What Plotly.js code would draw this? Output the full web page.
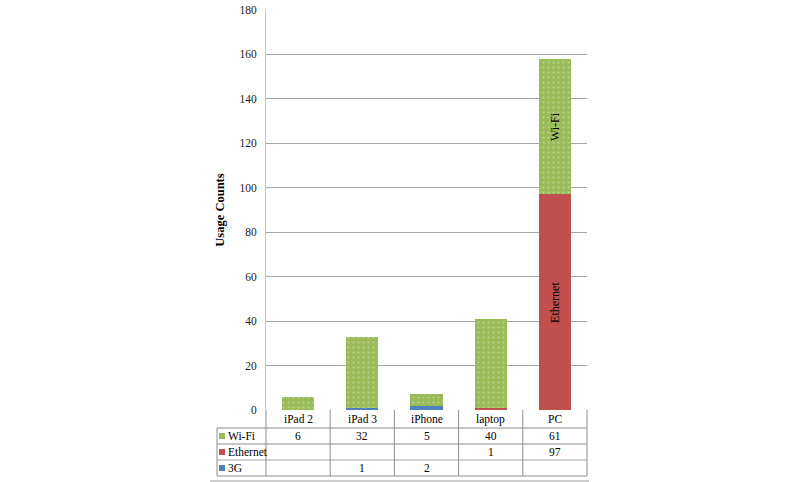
<!DOCTYPE html>
<html>
<head>
<meta charset="utf-8">
<script src="https://cdn.plot.ly/plotly-3.0.1.min.js"></script>
<style>
  html, body { margin: 0; padding: 0; background: #fff; }
  #chart { width: 800px; height: 482px; }
</style>
</head>
<body>
<div id="chart"></div>
<script>
const categories = ['iPad 2', 'iPad 3', 'iPhone', 'laptop', 'PC'];
const wifi = [6, 32, 5, 40, 61];
const ethernet = [null, null, null, 1, 97];
const g3 = [null, 1, 2, null, null];
const seriesNames = ['Wi-Fi', 'Ethernet', '3G'];
const seriesColors = ['#9BBB59', '#C0504D', '#4F81BD'];
const labelCategory = 'PC'; // only this bar carries series names inside

// plot box in pixels
const L = 266, R = 587, T = 10, B = 410;
const W = 800, H = 482;
const px = x => (x - L) / (R - L);
const py = y => (B - y) / (B - T);

const serif = 'Liberation Serif, Times New Roman, serif';
const barText = name => categories.map(c => c === labelCategory ? name : '');

function barTrace(name, values, color, extra) {
    return Object.assign({
        type: 'bar',
        name: name,
        x: categories,
        y: values,
        marker: { color: color, line: { width: 0 } },
        text: barText(name),
        textposition: 'inside',
        insidetextanchor: 'middle',
        textangle: -90,
        textfont: { family: serif, size: 12, color: '#000' },
        hoverinfo: 'x+y+name'
    }, extra || {});
}

const traces = [
    barTrace('3G', g3, seriesColors[2]),
    barTrace('Ethernet', ethernet, seriesColors[1]),
    barTrace('Wi-Fi', wifi, seriesColors[0], {
        marker: {
            color: seriesColors[0],
            line: { width: 0 },
            pattern: { shape: '.', bgcolor: seriesColors[0], fgcolor: '#bcd496', size: 5, solidity: 0.12 }
        }
    })
];

// data table under the axis
const rowTops = [410, 428, 444, 460, 476];
const tableRows = [wifi, ethernet, g3];
const shapes = [];
const annotations = [];
const lineCol = '#8e8e8e';

// horizontal rules
shapes.push({ type: 'line', xref: 'paper', yref: 'paper', x0: px(217), x1: 1, y0: py(rowTops[1]), y1: py(rowTops[1]), line: { color: lineCol, width: 1 } });
shapes.push({ type: 'line', xref: 'paper', yref: 'paper', x0: px(217), x1: 1, y0: py(rowTops[2]), y1: py(rowTops[2]), line: { color: lineCol, width: 1 } });
shapes.push({ type: 'line', xref: 'paper', yref: 'paper', x0: px(217), x1: 1, y0: py(rowTops[3]), y1: py(rowTops[3]), line: { color: '#d2d2d2', width: 2 } });
shapes.push({ type: 'line', xref: 'paper', yref: 'paper', x0: px(217), x1: 1, y0: py(rowTops[4]), y1: py(rowTops[4]), line: { color: lineCol, width: 1 } });
shapes.push({ type: 'line', xref: 'paper', yref: 'paper', x0: px(210), x1: px(589), y0: py(481), y1: py(481), line: { color: '#9a9a9a', width: 1 } });

// vertical rules
const colW = 1 / categories.length;
for (let i = 0; i <= categories.length; i++) {
    shapes.push({ type: 'line', xref: 'paper', yref: 'paper', x0: i * colW, x1: i * colW, y0: py(rowTops[0]), y1: py(rowTops[4]), line: { color: lineCol, width: 1 } });
}
shapes.push({ type: 'line', xref: 'paper', yref: 'paper', x0: px(217), x1: px(217), y0: py(rowTops[1]), y1: py(rowTops[4]), line: { color: lineCol, width: 1 } });

// header labels
categories.forEach((c, i) => {
    annotations.push({
        xref: 'paper', yref: 'paper', x: (i + 0.5) * colW, y: py((rowTops[0] + rowTops[1]) / 2),
        text: c, showarrow: false, xanchor: 'center', yanchor: 'middle',
        font: { family: serif, size: 11.5, color: '#000' }
    });
});

// rows: legend key + values
tableRows.forEach((vals, r) => {
    const yc = py((rowTops[r + 1] + rowTops[r + 2]) / 2);
    shapes.push({
        type: 'rect', xref: 'paper', yref: 'paper',
        x0: px(219), x1: px(225), y0: yc - 3 / 400, y1: yc + 3 / 400,
        fillcolor: seriesColors[r], line: { width: 0 }
    });
    annotations.push({
        xref: 'paper', yref: 'paper', x: px(225.5), y: yc,
        text: seriesNames[r], showarrow: false, xanchor: 'left', yanchor: 'middle',
        font: { family: serif, size: 11.5, color: '#000' }
    });
    vals.forEach((v, i) => {
        if (v === null) return;
        annotations.push({
            xref: 'paper', yref: 'paper', x: (i + 0.5) * colW, y: yc,
            text: String(v), showarrow: false, xanchor: 'center', yanchor: 'middle',
            font: { family: serif, size: 11.5, color: '#000' }
        });
    });
});

const layout = {
    width: W,
    height: H,
    margin: { l: L, r: W - R, t: T, b: H - B, pad: 0 },
    paper_bgcolor: '#fff',
    plot_bgcolor: '#fff',
    barmode: 'stack',
    bargap: 0.5,
    showlegend: false,
    font: { family: serif },
    xaxis: {
        range: [-0.5, 4.5],
        showticklabels: false,
        ticks: '',
        showgrid: false,
        zeroline: false,
        showline: false,
        fixedrange: true
    },
    yaxis: {
        range: [0, 180],
        dtick: 20,
        tick0: 0,
        showgrid: true,
        gridcolor: '#a6a6a6',
        gridwidth: 1,
        zeroline: false,
        showline: true,
        linecolor: '#c8c8c8',
        linewidth: 1,
        ticks: '',
        ticklabelstandoff: 6,
        tickfont: { family: serif, size: 11.5, color: '#222' },
        title: { text: '<b>Usage Counts</b>', font: { family: serif, size: 12.5, color: '#000' }, standoff: 12 },
        fixedrange: true
    },
    shapes: shapes,
    annotations: annotations
};

Plotly.newPlot('chart', traces, layout, { displayModeBar: false, staticPlot: true });
</script>
</body>
</html>
